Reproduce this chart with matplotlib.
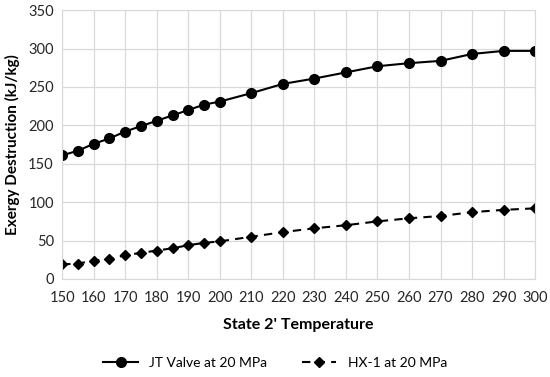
import numpy as np
import matplotlib.pyplot as plt

plt.rcParams['font.family'] = ['Lato', 'DejaVu Sans']

temps = [150, 155, 160, 165, 170, 175, 180, 185, 190, 195, 200,
         210, 220, 230, 240, 250, 260, 270, 280, 290, 300]
jt_valve = [161, 167, 176, 183, 192, 199, 206, 213, 220, 227, 231,
            242, 254, 261, 269, 277, 281, 284, 293, 297, 297]
hx1 = [19, 20, 24, 26, 31, 34, 37, 40, 44, 47, 49,
       55, 61, 66, 70, 75, 79, 82, 87, 90, 92]

fig = plt.figure(figsize=(5.5, 3.77), dpi=100)
ax = fig.add_axes([0.113, 0.260, 0.860, 0.713])

ax.plot(temps, jt_valve, '-', color='black', lw=1.5, marker='o', ms=7,
        label='JT Valve at 20 MPa')
ax.plot(temps, hx1, '--', color='black', lw=1.5, marker='D', ms=5,
        dashes=(4, 3), label='HX-1 at 20 MPa')

ax.set_xlim(150, 300)
ax.set_ylim(0, 350)
ax.set_xticks(np.arange(150, 301, 10))
ax.set_yticks(np.arange(0, 351, 50))
ax.grid(True, color='#d9d9d9', lw=0.9)
ax.set_axisbelow(True)
for s in ax.spines.values():
    s.set_color('#d9d9d9')
ax.tick_params(length=0, labelsize=10.5, colors='#262626')
ax.tick_params(axis='x', pad=9)
ax.tick_params(axis='y', pad=6)

ax.set_xlabel("State 2' Temperature", fontsize=11.5, fontweight='bold', labelpad=9)
ax.set_ylabel('Exergy Destruction (kJ/kg)', fontsize=11, fontweight='bold', labelpad=6)

fig.legend(loc='center', bbox_to_anchor=(0.5, 0.037), ncol=2, frameon=False,
           fontsize=10, handlelength=2.5, columnspacing=2.5)

fig.savefig('out.png', dpi=100)
